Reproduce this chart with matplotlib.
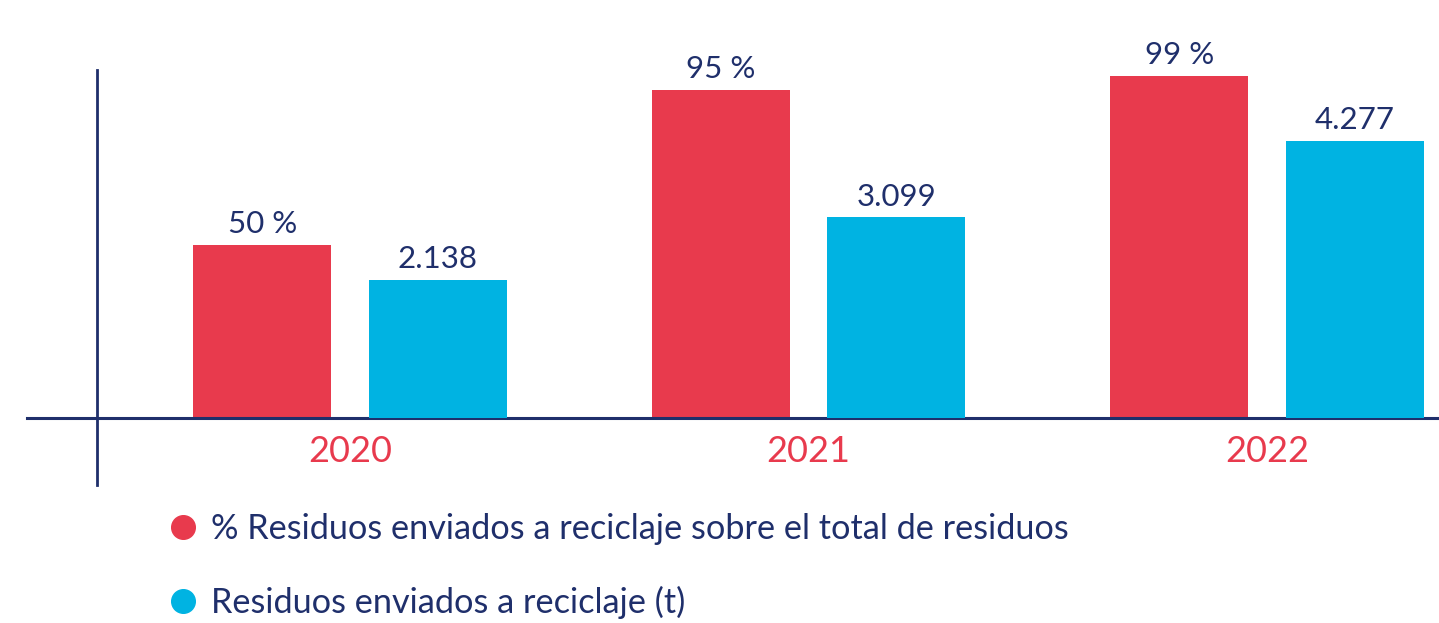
import matplotlib.pyplot as plt
import numpy as np
from matplotlib.lines import Line2D

# data
years = ['2020', '2021', '2022']
pct_recycled = [50, 95, 99]            # % of total waste sent to recycling
tons_recycled = [2138, 3099, 4277]     # waste sent to recycling (t)
pct_labels = ['50 %', '95 %', '99 %']
tons_labels = ['2.138', '3.099', '4.277']
legend_labels = ['% Residuos enviados a reciclaje sobre el total de residuos',
                 'Residuos enviados a reciclaje (t)']

red = '#E83A4D'
blue = '#00B3E2'
navy = '#1F2F6B'

plt.rcParams['font.family'] = ['Lato', 'DejaVu Sans']

W, H = 1439, 623
fig = plt.figure(figsize=(W / 100, H / 100), dpi=100)

base_y = 418  # baseline, pixels from top
ax = fig.add_axes([27 / W, (H - base_y) / H, (W - 27) / W, base_y / H])
ax2 = ax.twinx()

x = np.arange(len(years))
bw = 0.301
off = 0.191

ax.bar(x - off, pct_recycled, width=bw, color=red, zorder=2)
ax2.bar(x + off, tons_recycled, width=bw, color=blue, zorder=2)

ax.set_xlim(-0.7045, 2.375)
ax.set_ylim(0, 121)
ax2.set_ylim(0, 6460)

for xi, v, s in zip(x, pct_recycled, pct_labels):
    ax.annotate(s, (xi - off, v), xytext=(0, 5), textcoords='offset points',
                ha='center', va='bottom', fontsize=22.5, color=navy)
for xi, v, s in zip(x, tons_recycled, tons_labels):
    ax2.annotate(s, (xi + off, v), xytext=(0, 5), textcoords='offset points',
                 ha='center', va='bottom', fontsize=22.5, color=navy)

for a in (ax, ax2):
    for side in ('top', 'right', 'left'):
        a.spines[side].set_visible(False)
    a.set_yticks([])
ax.spines['bottom'].set_color(navy)
ax.spines['bottom'].set_linewidth(2.2)
ax.spines['bottom'].set_zorder(3)
ax2.spines['bottom'].set_visible(False)

# vertical axis line, running past the baseline
ax.axvline(-0.552, ymin=-0.16, ymax=0.8325, color=navy, lw=2, clip_on=False)

ax.set_xticks(x, years)
ax.tick_params(axis='x', length=0, pad=12, labelsize=26, labelcolor=red)

handles = [Line2D([], [], marker='o', ls='', color=c, markersize=17) for c in (red, blue)]
fig.legend(handles, legend_labels, loc='upper left', bbox_to_anchor=(165 / W, 1 - 513 / H),
           frameon=False, fontsize=24.7, labelcolor=navy, labelspacing=1.2,
           handletextpad=0.3, handlelength=1.05, borderaxespad=0, borderpad=0)

fig.savefig('out.png', dpi=100)
